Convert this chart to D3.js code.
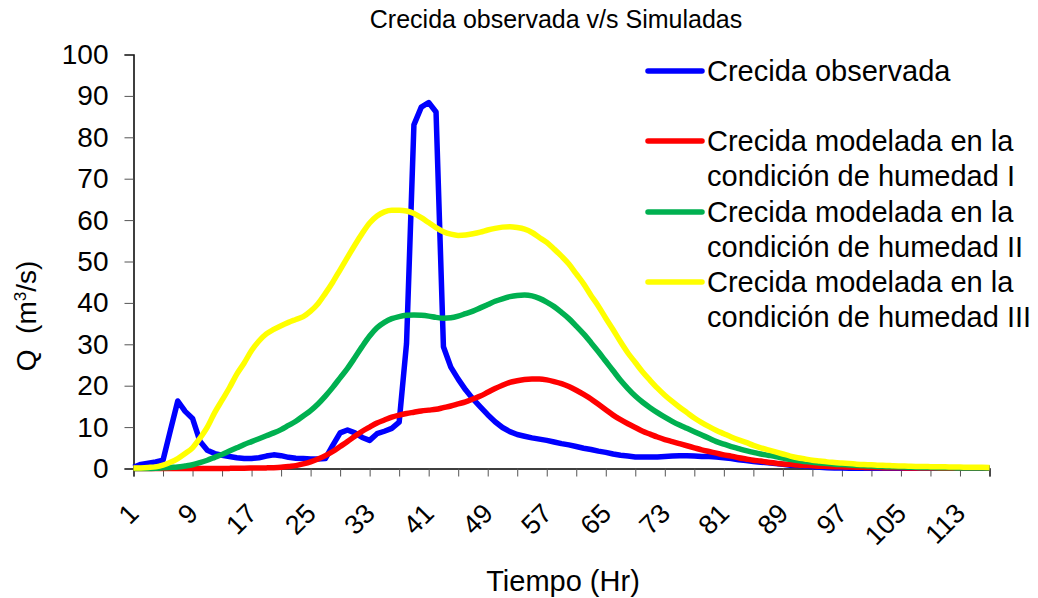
<!DOCTYPE html>
<html>
<head>
<meta charset="utf-8">
<script src="https://cdn.jsdelivr.net/npm/d3@7"></script>
<style>
  body { margin: 0; background: #fff; }
  text { font-family: "Liberation Sans", Arial, sans-serif; fill: #000; }
</style>
</head>
<body>
<div id="chart"></div>
<script>
// hours 1..117 (categories of the x axis)
var hours = d3.range(1, 118);
var tickHours = d3.range(1, 118, 4);
var labelHours = d3.range(1, 118, 8);

// Crecida observada
var observada = [
  0.3, 1.0, 1.3, 1.6, 2.0, 9.2, 16.3, 13.8, 12.1, 6.6,
  4.4, 3.6, 3.2, 2.9, 2.6, 2.4, 2.4, 2.6, 3.0, 3.3,
  3.1, 2.7, 2.5, 2.4, 2.3, 2.3, 2.4, 5.6, 8.6, 9.3,
  8.6, 7.5, 6.8, 8.4, 9.0, 9.7, 11.2, 30.2, 83.0, 87.3,
  88.4, 86.1, 29.4, 24.5, 21.6, 19.0, 16.8, 14.9, 13.0, 11.3,
  9.9, 8.9, 8.2, 7.8, 7.4, 7.1, 6.8, 6.4, 6.0, 5.7,
  5.3, 4.9, 4.6, 4.2, 3.9, 3.5, 3.2, 3.0, 2.8, 2.8,
  2.8, 2.8, 2.9, 3.0, 3.1, 3.1, 3.0, 2.9, 2.9, 2.8,
  2.6, 2.4, 2.1, 1.9, 1.7, 1.5, 1.4, 1.2, 1.0, 0.8,
  0.7, 0.6, 0.4, 0.3, 0.2, 0.1, 0.1, 0.05, 0.05, 0.05,
  0.05, 0.05, 0.05, 0.05, 0.05, 0.05, 0.05, 0.05, 0.05, 0.05,
  0.05, 0.05, 0.05, 0.05, 0.05, 0.05, 0.05
];

// Crecida modelada, humedad I
var humedadI = [
  0, 0, 0, 0, 0, 0, 0, 0, 0, 0,
  0, 0, 0.02, 0.03, 0.05, 0.07, 0.1, 0.12, 0.15, 0.2,
  0.3, 0.5, 0.7, 1.1, 1.6, 2.3, 3.1, 4.1, 5.3, 6.5,
  7.8, 9.0, 10.0, 11.0, 11.7, 12.4, 12.9, 13.3, 13.6, 13.9,
  14.1, 14.3, 14.7, 15.1, 15.6, 16.1, 16.8, 17.5, 18.4, 19.3,
  20.1, 20.8, 21.2, 21.5, 21.6, 21.6, 21.4, 21.0, 20.5, 19.8,
  18.9, 17.9, 16.8, 15.5, 14.2, 12.9, 11.8, 10.8, 9.9, 9.0,
  8.3, 7.6, 7.0, 6.5, 6.0, 5.5, 5.0, 4.5, 4.1, 3.7,
  3.3, 3.0, 2.6, 2.3, 2.0, 1.8, 1.5, 1.3, 1.1, 1.0,
  0.85, 0.75, 0.65, 0.55, 0.5, 0.45, 0.4, 0.35, 0.3, 0.27,
  0.25, 0.22, 0.2, 0.18, 0.16, 0.14, 0.12, 0.11, 0.1, 0.09,
  0.08, 0.07, 0.06, 0.06, 0.05, 0.05, 0.05
];

// Crecida modelada, humedad II
var humedadII = [
  0, 0, 0, 0.05, 0.15, 0.25, 0.35, 0.6, 0.9, 1.4,
  2.0, 2.7, 3.4, 4.2, 5.0, 5.8, 6.5, 7.2, 7.9, 8.6,
  9.4, 10.4, 11.4, 12.7, 14.0, 15.6, 17.5, 19.6, 21.9, 24.2,
  26.8, 29.5, 32.0, 34.0, 35.3, 36.2, 36.7, 37.0, 37.1, 37.0,
  36.8, 36.5, 36.3, 36.4, 36.8, 37.4, 38.0, 38.8, 39.6, 40.4,
  41.0, 41.5, 41.8, 41.9, 41.7, 41.1, 40.2, 39.1, 37.7, 36.2,
  34.4, 32.5, 30.4, 28.2, 25.9, 23.6, 21.3, 19.3, 17.5, 16.0,
  14.7, 13.5, 12.4, 11.4, 10.5, 9.7, 8.9, 8.1, 7.3, 6.5,
  5.9, 5.3, 4.8, 4.3, 3.9, 3.5, 3.2, 2.9, 2.5, 2.2,
  1.9, 1.7, 1.5, 1.3, 1.2, 1.05, 0.95, 0.85, 0.75, 0.65,
  0.6, 0.5, 0.45, 0.4, 0.35, 0.3, 0.28, 0.25, 0.22, 0.2,
  0.18, 0.16, 0.14, 0.12, 0.11, 0.1, 0.1
];

// Crecida modelada, humedad III
var humedadIII = [
  0.1, 0.15, 0.25, 0.4, 0.8, 1.5, 2.4, 3.6, 5.0, 7.3,
  10.0, 13.5, 16.5, 19.5, 22.8, 25.5, 28.5, 30.8, 32.5, 33.6,
  34.5, 35.3, 36.0, 36.7, 38.0, 39.8, 42.3, 45.0, 48.0, 51.0,
  54.0, 56.8, 59.3, 61.0, 62.0, 62.4, 62.4, 62.2, 61.6, 60.6,
  59.4, 58.2, 57.2, 56.6, 56.3, 56.4, 56.7, 57.1, 57.6, 58.0,
  58.3, 58.4, 58.2, 57.8, 57.0, 55.8, 54.6, 53.0, 51.3, 49.4,
  47.0, 44.6, 41.8, 39.2, 36.3, 33.5, 30.6, 27.9, 25.6, 23.3,
  21.3, 19.4, 17.7, 16.2, 14.8, 13.5, 12.2, 11.1, 10.1, 9.2,
  8.4, 7.6, 6.9, 6.3, 5.6, 5.0, 4.5, 4.0, 3.5, 3.0,
  2.6, 2.3, 2.0, 1.8, 1.6, 1.45, 1.3, 1.2, 1.05, 0.95,
  0.9, 0.8, 0.75, 0.65, 0.6, 0.55, 0.5, 0.5, 0.45, 0.4,
  0.4, 0.35, 0.35, 0.3, 0.3, 0.3, 0.25
];

var seriesNames = [
  ["Crecida observada"],
  ["Crecida modelada en la", "condición de humedad I"],
  ["Crecida modelada en la", "condición de humedad II"],
  ["Crecida modelada en la", "condición de humedad III"]
];
var seriesColors = ["#0000ff", "#ff0000", "#00b050", "#ffff00"];
var seriesValues = [observada, humedadI, humedadII, humedadIII];

var W = 1038, H = 598;
var plot = {left: 133.5, right: 989.5, top: 54.5, bottom: 468.5};

var svg = d3.select("#chart")
  .append("svg")
    .attr("width", W)
    .attr("height", H);

var x = d3.scaleLinear().domain([1, 117]).range([plot.left, plot.right]);
var y = d3.scaleLinear().domain([0, 100]).range([plot.bottom, plot.top]);

// title
svg.append("text")
  .attr("x", 556).attr("y", 28)
  .attr("text-anchor", "middle")
  .style("font-size", "25px")
  .text("Crecida observada v/s Simuladas");

// Y axis
var yAxis = svg.append("g")
  .attr("transform", "translate(" + plot.left + ",0)")
  .call(d3.axisLeft(y).tickValues(d3.range(0, 101, 10)).tickSize(9).tickPadding(16));
yAxis.select(".domain").attr("stroke", "#000").attr("stroke-width", 1.5);
yAxis.selectAll(".tick line").attr("stroke", "#555");
yAxis.selectAll(".tick text")
  .style("font-size", "28px")
  .style("font-family", "'Liberation Sans', Arial, sans-serif");

// X axis (ticks only, labels added below)
var xAxis = svg.append("g")
  .attr("transform", "translate(0," + plot.bottom + ")")
  .call(d3.axisBottom(x).tickValues(tickHours).tickSize(8).tickFormat(""));
xAxis.select(".domain").attr("stroke", "#000").attr("stroke-width", 1.5);
xAxis.selectAll(".tick line").attr("stroke", "#555");

svg.selectAll(".xlabel")
  .data(labelHours)
  .enter()
  .append("text")
    .attr("class", "xlabel")
    .attr("text-anchor", "end")
    .attr("transform", function(d) { return "translate(" + (x(d) + 7) + ",515) rotate(-45)"; })
    .style("font-size", "27px")
    .text(function(d) { return d; });

// axis titles
svg.append("text")
  .attr("x", 563).attr("y", 591)
  .attr("text-anchor", "middle")
  .style("font-size", "29px")
  .text("Tiempo (Hr)");

var yTitle = svg.append("text")
  .attr("transform", "translate(36,316) rotate(-90)")
  .attr("text-anchor", "middle")
  .style("font-size", "28px")
  .style("white-space", "pre");
yTitle.append("tspan").text("Q  (m");
yTitle.append("tspan").attr("dy", -10).style("font-size", "17px").text("3");
yTitle.append("tspan").attr("dy", 10).text("/s)");

// lines: observed drawn straight, modelled ones smooth
seriesValues.forEach(function(vals, i) {
  svg.append("path")
    .datum(vals)
    .attr("fill", "none")
    .attr("stroke", seriesColors[i])
    .attr("stroke-width", 5.5)
    .attr("stroke-linejoin", "round")
    .attr("d", d3.line()
      .curve(i == 0 ? d3.curveLinear : d3.curveMonotoneX)
      .x(function(d, j) { return x(hours[j]); })
      .y(function(d) { return y(d); })
    );
});

// legend
var legendY = [71, 141, 212, 282];
var legend = svg.selectAll(".legend")
  .data(seriesNames)
  .enter()
  .append("g")
    .attr("class", "legend")
    .attr("transform", function(d, i) { return "translate(648," + legendY[i] + ")"; });

legend.append("line")
  .attr("x1", 0).attr("x2", 54)
  .attr("stroke", function(d, i) { return seriesColors[i]; })
  .attr("stroke-width", 5.5)
  .attr("stroke-linecap", "round");

legend.each(function(lines) {
  var g = d3.select(this);
  lines.forEach(function(t, k) {
    g.append("text")
      .attr("x", 59)
      .attr("y", 10 + k * 35)
      .style("font-size", "29px")
      .text(t);
  });
});
</script>
</body>
</html>
